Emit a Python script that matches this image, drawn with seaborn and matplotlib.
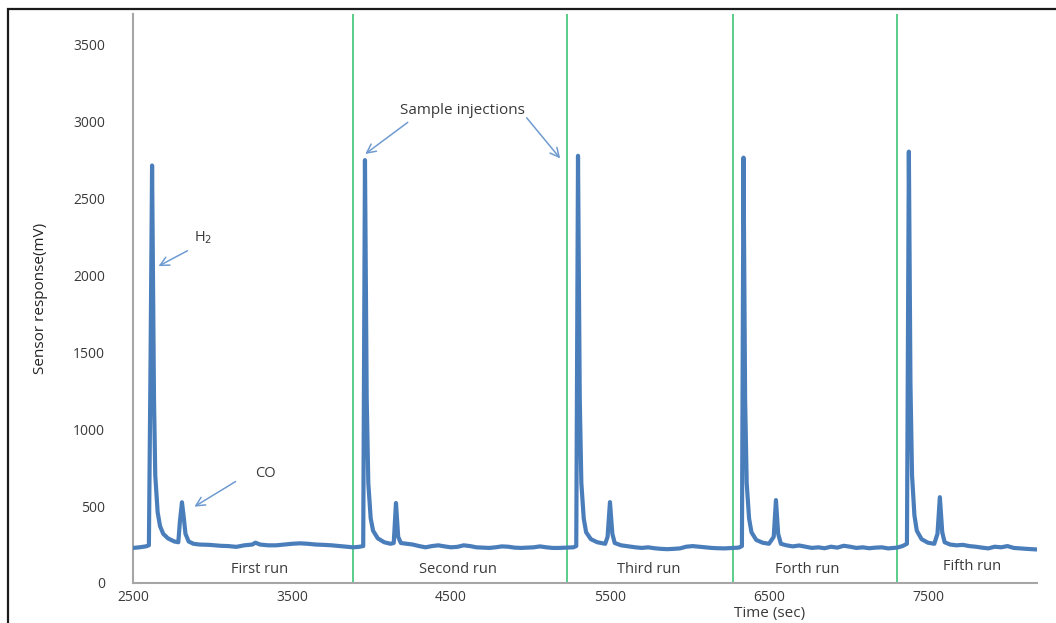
import numpy as np
import pandas as pd
import matplotlib
matplotlib.use("Agg")
import matplotlib.pyplot as plt
import seaborn as sns
from matplotlib.patches import Rectangle

# sensor trace (time in sec, response in mV)
time_s = [
    2500, 2540, 2580, 2600, 2610, 2620, 2632, 2640, 2655, 2670, 2690, 2720, 2760, 2785,
    2795, 2808, 2820, 2830, 2850, 2880, 2920, 2980, 3050, 3100, 3150, 3200, 3250, 3270,
    3300, 3350, 3400, 3450, 3500, 3550, 3600, 3650, 3700, 3750, 3800, 3850, 3884, 3920,
    3948, 3959, 3970, 3980, 3995, 4010, 4040, 4080, 4120, 4140, 4154, 4168, 4185, 4220,
    4260, 4300, 4340, 4380, 4420, 4460, 4500, 4540, 4580, 4620, 4660, 4700, 4740, 4780,
    4820, 4860, 4900, 4940, 4980, 5020, 5060, 5100, 5140, 5180, 5230, 5270, 5288,
    5299, 5310, 5320, 5335, 5350, 5380, 5420, 5470, 5485, 5500, 5515, 5530, 5570, 5620,
    5660, 5700, 5740, 5780, 5820, 5860, 5900, 5940, 5980, 6020, 6060, 6100, 6140, 6180,
    6220, 6274, 6310, 6330, 6340, 6350, 6360, 6375, 6390, 6420, 6460, 6500, 6530, 6544,
    6558, 6575, 6610, 6650, 6690, 6730, 6770, 6810, 6850, 6890, 6930, 6970, 7010, 7050,
    7090, 7130, 7170, 7210, 7250, 7305, 7340, 7368, 7380, 7390, 7400, 7415, 7430, 7460,
    7500, 7540, 7560, 7575, 7590, 7605, 7640, 7680, 7720, 7760, 7800, 7840, 7880, 7920,
    7960, 8000, 8040, 8080, 8120, 8160, 8186,
]
response_mv = [
    228, 232, 238, 245, 1400, 2715, 1200, 700, 460, 370, 320, 290, 270, 265,
    400, 525, 420, 320, 270, 255, 250, 248, 242, 240, 235, 245, 250, 262,
    250, 245, 245, 250, 255, 258, 255, 250, 248, 245, 240, 235, 232, 235,
    240, 2750, 1200, 650, 420, 340, 290, 265, 255, 260, 520, 300, 260, 255,
    250, 240, 232, 240, 245, 238, 232, 235, 245, 240, 232, 230, 228, 232,
    238, 236, 230, 228, 230, 232, 238, 232, 228, 228, 230, 232, 240,
    2778, 1200, 650, 420, 330, 285, 265, 255, 300, 526, 320, 260, 245, 238,
    232, 228, 232, 226, 222, 220, 222, 225, 236, 240, 236, 232, 228, 226,
    225, 228, 230, 240, 2766, 1200, 650, 420, 330, 280, 262, 255, 300, 539,
    320, 255, 245, 238, 244, 236, 228, 232, 226, 236, 230, 242, 236, 228,
    232, 226, 230, 232, 225, 230, 240, 255, 2805, 1300, 700, 440, 340, 285,
    262, 255, 320, 558, 330, 265, 250, 245, 248, 240, 236, 230, 225, 236,
    232, 240, 228, 225, 222, 220, 218,
]

injection_times = [3884, 5230, 6274, 7305]
run_labels = ["First run", "Second run", "Third run", "Forth run", "Fifth run"]
run_label_x = [3299, 4544, 5745, 6739, 7777]
run_label_y = [91, 91, 91, 91, 110]

x_ticks = [2500, 3500, 4500, 5500, 6500, 7500]
y_ticks = [0, 500, 1000, 1500, 2000, 2500, 3000, 3500]

df = pd.DataFrame({"time": time_s, "response": response_mv})

sns.set_style("white")
plt.rcParams["font.family"] = ["Open Sans", "DejaVu Sans"]

fig = plt.figure(figsize=(10.56, 6.23), dpi=100)
ax = fig.add_axes([133 / 1056, 1 - 583 / 623, (1037 - 133) / 1056, (583 - 14) / 623])

# outer frame of the picture
fig.patches.append(Rectangle((8 / 1056, -0.05), 1.1, 1 - 9 / 623 + 0.05,
                             transform=fig.transFigure, fill=False,
                             edgecolor="#1a1a1a", linewidth=1.6, zorder=0))

for t in injection_times:
    ax.axvline(t, color="#2ec06a", linewidth=1.3, alpha=0.85, zorder=1)

sns.lineplot(data=df, x="time", y="response", ax=ax, estimator=None,
             color="#4a7ebb", linewidth=3.0, zorder=3, solid_joinstyle="round")

ax.set_xlim(2500, 8186)
ax.set_ylim(0, 3700)
ax.set_xticks(x_ticks)
ax.set_yticks(y_ticks)
ax.tick_params(axis="both", length=0, labelsize=10, labelcolor="#3a3a3a")
ax.tick_params(axis="y", pad=20)
ax.tick_params(axis="x", pad=5)
ax.set_xlabel("")
ax.set_ylabel("Sensor response(mV)", fontsize=11, color="#222222", labelpad=18)

for side in ["top", "right"]:
    ax.spines[side].set_visible(False)
for side in ["left", "bottom"]:
    ax.spines[side].set_color("#a6a6a6")
    ax.spines[side].set_linewidth(1.5)

for lab, lx, ly in zip(run_labels, run_label_x, run_label_y):
    ax.text(lx, ly, lab, ha="center", va="center", fontsize=10.5, color="#3a3a3a")

arrow_kw = dict(arrowstyle="->", color="#6f9bd1", lw=1.1, mutation_scale=16)
ax.annotate("", xy=(2645, 2052), xytext=(2858, 2169), arrowprops=arrow_kw)
ax.text(2940, 2247, "H$_2$", ha="center", va="center", fontsize=10.5, color="#3a3a3a")
ax.annotate("", xy=(2871, 487), xytext=(3160, 669), arrowprops=arrow_kw)
ax.text(3330, 714, "CO", ha="center", va="center", fontsize=10.5, color="#3a3a3a")
ax.text(4569, 3071, "Sample injections", ha="center", va="center", fontsize=11,
        color="#3a3a3a")
ax.annotate("", xy=(3947, 2779), xytext=(4242, 3006), arrowprops=arrow_kw)
ax.annotate("", xy=(5198, 2747), xytext=(4965, 3039), arrowprops=arrow_kw)

# x-axis title sits just under the tick labels, as in the original
fig.text(770 / 1056, 1 - 614 / 623, "Time (sec)", ha="center", va="center",
         fontsize=11, color="#3a3a3a")

fig.savefig("out.png", dpi=100)
